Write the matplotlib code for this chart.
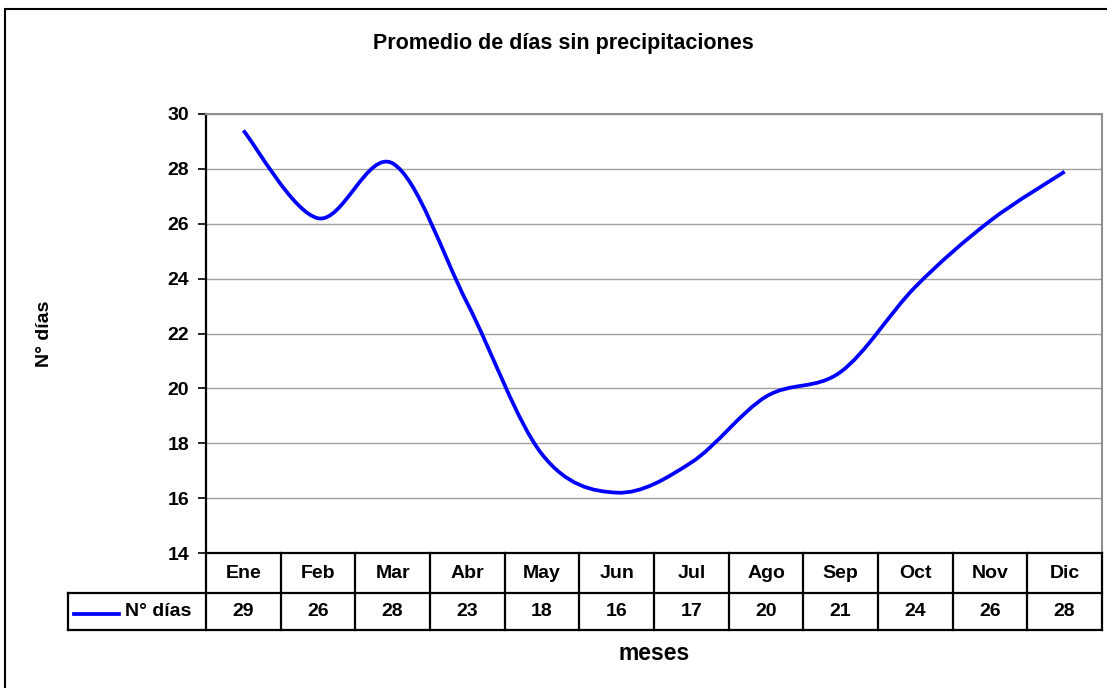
import matplotlib
matplotlib.use("Agg")
import matplotlib.pyplot as plt
from matplotlib.path import Path
from matplotlib.patches import PathPatch, Rectangle
from matplotlib.lines import Line2D
from matplotlib.transforms import blended_transform_factory

# ---- data ----
meses = ["Ene", "Feb", "Mar", "Abr", "May", "Jun",
         "Jul", "Ago", "Sep", "Oct", "Nov", "Dic"]
dias = [29.4, 26.2, 28.2, 23.1, 17.6, 16.2, 17.3, 19.7, 20.6, 23.7, 26.1, 27.9]
serie = "N° días"
y_ticks = [14, 16, 18, 20, 22, 24, 26, 28, 30]

W, H = 1107, 688
FONT = "Liberation Sans"
FS = 14
BLUE = "#0000FF"

plt.rcParams["font.family"] = [FONT, "DejaVu Sans"]
plt.rcParams["font.weight"] = "bold"


def fx(px):
    return px / W


def fy(py):
    return 1 - py / H


def smooth_path(xs, ys):
    # cubic bezier through every point (catmull-rom style tangents)
    pts = list(zip(xs, ys))
    n = len(pts)
    verts = [pts[0]]
    codes = [Path.MOVETO]
    for i in range(n - 1):
        p0 = pts[i - 1] if i > 0 else pts[i]
        p1 = pts[i]
        p2 = pts[i + 1]
        p3 = pts[i + 2] if i + 2 < n else pts[i + 1]
        c1 = (p1[0] + (p2[0] - p0[0]) / 6, p1[1] + (p2[1] - p0[1]) / 6)
        c2 = (p2[0] - (p3[0] - p1[0]) / 6, p2[1] - (p3[1] - p1[1]) / 6)
        verts += [c1, c2, p2]
        codes += [Path.CURVE4] * 3
    return Path(verts, codes)


fig = plt.figure(figsize=(W / 100, H / 100), dpi=100)

# outer chart frame
fig.patches.append(Rectangle((fx(5), -0.1), 2, fy(9) + 0.1,
                             transform=fig.transFigure, fill=False,
                             edgecolor="black", linewidth=1.5))

top, bottom, left, right = 114, 553, 206, 1102
ax = fig.add_axes([fx(left), fy(bottom), fx(right - left), (bottom - top) / H])

x = list(range(len(meses)))
ax.add_patch(PathPatch(smooth_path(x, dias), fill=False,
                       edgecolor=BLUE, linewidth=2.7, capstyle="butt"))

ax.set_xlim(-0.5, len(meses) - 0.5)
ax.set_ylim(14, 30)
ax.set_yticks(y_ticks)
ax.set_xticks([])
ax.yaxis.grid(True, color="#a0a0a0", linewidth=1)
ax.set_axisbelow(True)
ax.tick_params(axis="y", direction="out", length=6, width=1.2, pad=6,
               labelsize=FS)
for lab in ax.get_yticklabels():
    lab.set_fontweight("bold")

ax.spines["left"].set_color("black")
ax.spines["left"].set_linewidth(1.6)
ax.spines["bottom"].set_color("black")
ax.spines["bottom"].set_linewidth(1.6)
ax.spines["top"].set_color("#909090")
ax.spines["top"].set_linewidth(1.5)
ax.spines["right"].set_color("#909090")
ax.spines["right"].set_linewidth(1.5)

ax.set_ylabel("N° días", fontsize=FS, fontweight="bold", labelpad=0)
ax.yaxis.set_label_coords((53 - left) / (right - left), 0.5)

# ---- data table below the plot ----
row1, row2, row3 = 553, 593, 630
tr = blended_transform_factory(ax.transData, fig.transFigure)
for k in range(len(meses) + 1):
    ax.add_line(Line2D([k - 0.5, k - 0.5], [fy(row1), fy(row3)], transform=tr,
                       color="black", linewidth=1.6, clip_on=False))
for yy in (row2, row3):
    fig.add_artist(Line2D([fx(68), fx(right)], [fy(yy), fy(yy)],
                          color="black", linewidth=1.6))
fig.add_artist(Line2D([fx(68), fx(68)], [fy(row2), fy(row3)],
                      color="black", linewidth=1.6))

for i, (m, v) in enumerate(zip(meses, dias)):
    ax.text(i, fy((row1 + row2) / 2), m, transform=tr, ha="center",
            va="center", fontsize=FS, fontweight="bold")
    ax.text(i, fy((row2 + row3) / 2), f"{v:.0f}", transform=tr, ha="center",
            va="center", fontsize=FS, fontweight="bold")

# legend key in the table
fig.add_artist(Line2D([fx(74), fx(119)], [fy(614), fy(614)],
                      color=BLUE, linewidth=2.7))
fig.text(fx(125), fy((row2 + row3) / 2), serie, ha="left", va="center",
         fontsize=FS, fontweight="bold")

fig.text(fx(654), fy(654), "meses", ha="center", va="center",
         fontsize=16.5, fontweight="bold")
fig.text(fx(563), fy(43), "Promedio de días sin precipitaciones",
         ha="center", va="center", fontsize=15.5, fontweight="bold")

fig.savefig("out.png", dpi=100)
